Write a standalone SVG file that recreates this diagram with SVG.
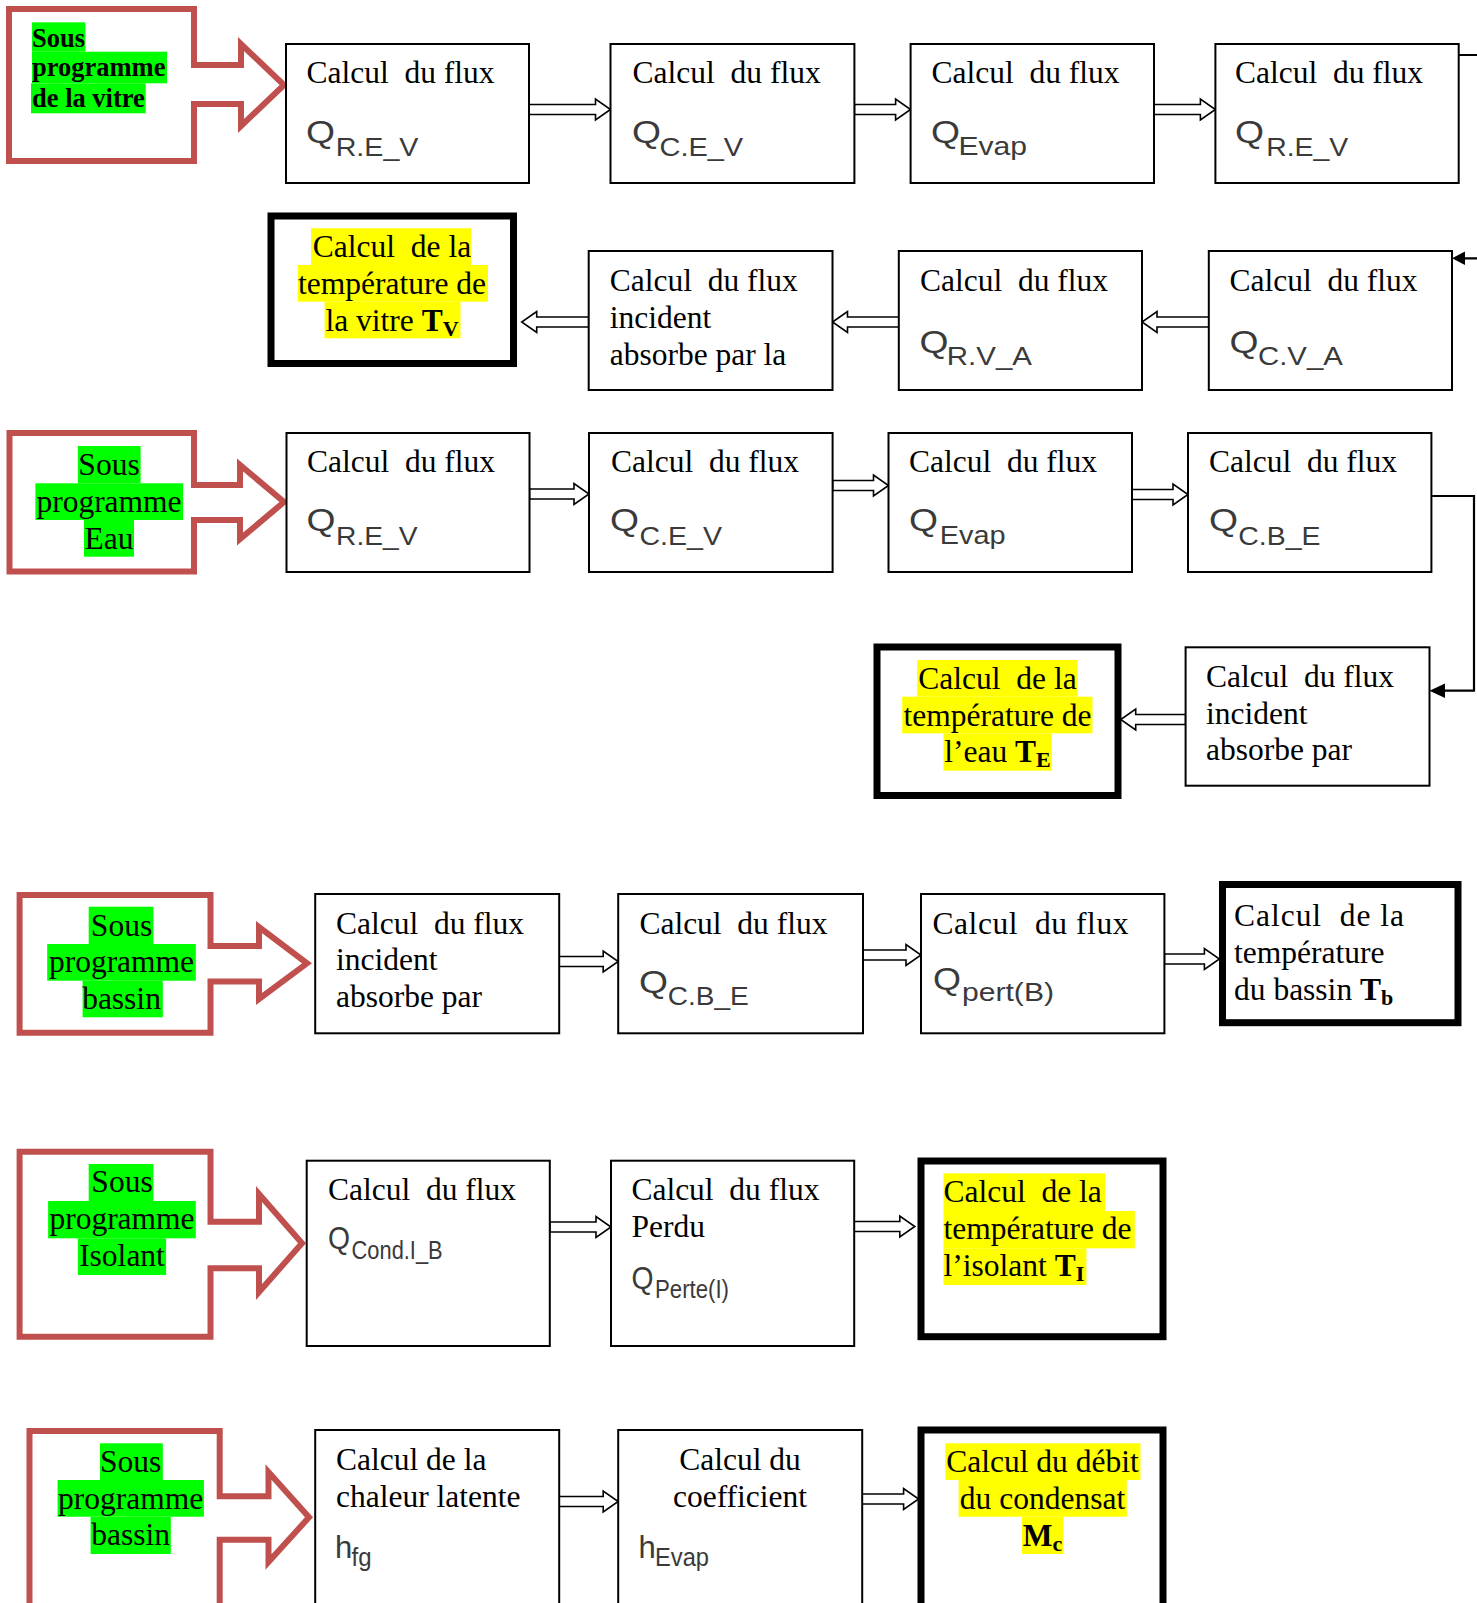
<svg xmlns="http://www.w3.org/2000/svg" width="1477" height="1603" viewBox="0 0 1477 1603">
<defs>
<style>
.box{fill:#fff;stroke:#000;stroke-width:2}
.thick{fill:#fff;stroke:#000;stroke-width:7}
.red{fill:none;stroke:#C0504D;stroke-width:6;stroke-linejoin:miter;stroke-miterlimit:10}
.t{font-family:"Liberation Serif","Times New Roman",serif;font-size:31.5px;fill:#000;white-space:pre}
.tc{font-family:"Liberation Serif","Times New Roman",serif;font-size:31.5px;fill:#000;text-anchor:middle;white-space:pre}
.tb{font-family:"Liberation Serif","Times New Roman",serif;font-size:26.5px;font-weight:bold;fill:#000}
.b{font-weight:bold}
.q{font-family:"Liberation Sans",Arial,sans-serif;font-size:31px;fill:#3a3a3a}
.qs{font-family:"Liberation Sans",Arial,sans-serif;font-size:25px;fill:#3a3a3a}
.hy{fill:#FFFF00}
.hg{fill:#00FF00}
.arr{fill:#fff;stroke:#000;stroke-width:1.6;stroke-linejoin:miter}
.ln{fill:none;stroke:#000;stroke-width:2.2}
.head{fill:#000}
</style>
</defs>

<g id="connectors">
<polygon class="arr" points="529,104.5 595.5,104.5 595.5,99 610.5,109.5 595.5,120 595.5,114.5 529,114.5"/>
<polygon class="arr" points="854.4,104.5 895.6,104.5 895.6,99 910.6,109.5 895.6,120 895.6,114.5 854.4,114.5"/>
<polygon class="arr" points="1154,104.5 1200.4,104.5 1200.4,99 1215.4,109.5 1200.4,120 1200.4,114.5 1154,114.5"/>
<path class="ln" d="M1458.7,55 H1495 V258.3 H1464"/>
<polygon class="head" points="1452,258.3 1465,251.5 1465,265"/>
<polygon class="arr" points="1208.8,317 1157,317 1157,311.5 1142,322 1157,332.5 1157,327 1208.8,327"/>
<polygon class="arr" points="898.8,317 847.5,317 847.5,311.5 832.5,322 847.5,332.5 847.5,327 898.8,327"/>
<polygon class="arr" points="588.7,317 536.7,317 536.7,311.5 521.7,322 536.7,332.5 536.7,327 588.7,327"/>
<polygon class="arr" points="529.5,489 574,489 574,483.5 589,494 574,504.5 574,499 529.5,499"/>
<polygon class="arr" points="832.6,480.5 873.5,480.5 873.5,475 888.5,485.5 873.5,496 873.5,490.5 832.6,490.5"/>
<polygon class="arr" points="1132,489.5 1173,489.5 1173,484 1188,494.5 1173,505 1173,499.5 1132,499.5"/>
<path class="ln" d="M1431.4,496 H1474 V690.7 H1443"/>
<polygon class="head" points="1429.5,690.7 1445,683.5 1445,698"/>
<polygon class="arr" points="1185.6,714.5 1135.7,714.5 1135.7,709 1120.7,719.5 1135.7,730 1135.7,724.5 1185.6,724.5"/>
<polygon class="arr" points="559.2,956.5 603.2,956.5 603.2,951 618.2,961.5 603.2,972 603.2,966.5 559.2,966.5"/>
<polygon class="arr" points="863,950 906,950 906,944.5 921,955 906,965.5 906,960 863,960"/>
<polygon class="arr" points="1164.4,954 1204.4,954 1204.4,948.5 1219.4,959 1204.4,969.5 1204.4,964 1164.4,964"/>
<polygon class="arr" points="549.8,1222 596,1222 596,1216.5 611,1227 596,1237.5 596,1232 549.8,1232"/>
<polygon class="arr" points="854.2,1221.5 899.8,1221.5 899.8,1216 914.8,1226.5 899.8,1237 899.8,1231.5 854.2,1231.5"/>
<polygon class="arr" points="559.2,1496.5 603.2,1496.5 603.2,1491 618.2,1501.5 603.2,1512 603.2,1506.5 559.2,1506.5"/>
<polygon class="arr" points="862.2,1494 903.6,1494 903.6,1488.5 918.6,1499 903.6,1509.5 903.6,1504 862.2,1504"/>
</g>

<!-- Row 1 -->
<g id="sp-vitre">
<path class="red" d="M9,9 H194 V65 H241 V44 L284,85 L241,126 V104 H194 V161 H9 Z"/>
<rect class="hg" x="32" y="22.3" width="53.4" height="29.4"/>
<rect class="hg" x="32" y="51.7" width="135" height="31.6"/>
<rect class="hg" x="31" y="83.3" width="114.7" height="30"/>
<text class="tb" x="32" y="46.5">Sous</text>
<text class="tb" x="32" y="76">programme</text>
<text class="tb" x="32" y="107">de la vitre</text>
</g>
<g id="r1b1">
<rect class="box" x="286" y="44" width="243" height="139"/>
<text class="t" x="306.5" y="83" xml:space="preserve">Calcul  du flux</text>
<text class="q" x="306" y="143" textLength="29" lengthAdjust="spacingAndGlyphs">Q</text>
<text class="qs" x="335.7" y="156" textLength="82.7" lengthAdjust="spacingAndGlyphs">R.E_V</text>
</g>
<g id="r1b2">
<rect class="box" x="610.5" y="44" width="243.9" height="139"/>
<text class="t" x="632.6" y="83" xml:space="preserve">Calcul  du flux</text>
<text class="q" x="632" y="143" textLength="29" lengthAdjust="spacingAndGlyphs">Q</text>
<text class="qs" x="659.5" y="156" textLength="83.7" lengthAdjust="spacingAndGlyphs">C.E_V</text>
</g>
<g id="r1b3">
<rect class="box" x="910.6" y="44" width="243.4" height="139"/>
<text class="t" x="931.5" y="83" xml:space="preserve">Calcul  du flux</text>
<text class="q" x="931" y="143" textLength="29" lengthAdjust="spacingAndGlyphs">Q</text>
<text class="qs" x="958.4" y="155" textLength="68.6" lengthAdjust="spacingAndGlyphs">Evap</text>
</g>
<g id="r1b4">
<rect class="box" x="1215.4" y="44" width="243.3" height="139"/>
<text class="t" x="1235" y="83" xml:space="preserve">Calcul  du flux</text>
<text class="q" x="1235" y="143" textLength="29" lengthAdjust="spacingAndGlyphs">Q</text>
<text class="qs" x="1266.2" y="156" textLength="82" lengthAdjust="spacingAndGlyphs">R.E_V</text>
</g>

<!-- Row 2 -->
<g id="tv">
<rect class="thick" x="271" y="216" width="242.5" height="147.5"/>
<rect class="hy" x="311" y="228.3" width="160" height="36.7"/>
<rect class="hy" x="297.8" y="265" width="190.2" height="36.7"/>
<rect class="hy" x="324.6" y="301.7" width="135.9" height="36.6"/>
<text class="tc" x="392" y="257" xml:space="preserve">Calcul  de la</text>
<text class="tc" x="392" y="294">température de</text>
<text class="tc" x="392" y="330.5" xml:space="preserve">la vitre <tspan class="b">T</tspan><tspan class="b" font-size="22" dy="5">V</tspan></text>
</g>
<g id="r2inc">
<rect class="box" x="588.7" y="251" width="243.8" height="139"/>
<text class="t" x="609.7" y="290.7" xml:space="preserve">Calcul  du flux</text>
<text class="t" x="609.7" y="328">incident</text>
<text class="t" x="609.7" y="365">absorbe par la</text>
</g>
<g id="r2rva">
<rect class="box" x="898.8" y="251" width="243.2" height="139"/>
<text class="t" x="920" y="290.7" xml:space="preserve">Calcul  du flux</text>
<text class="q" x="919.5" y="353" textLength="29" lengthAdjust="spacingAndGlyphs">Q</text>
<text class="qs" x="946.8" y="365" textLength="85.2" lengthAdjust="spacingAndGlyphs">R.V_A</text>
</g>
<g id="r2cva">
<rect class="box" x="1208.8" y="251" width="243.2" height="139"/>
<text class="t" x="1229.5" y="290.7" xml:space="preserve">Calcul  du flux</text>
<text class="q" x="1229.5" y="353" textLength="29" lengthAdjust="spacingAndGlyphs">Q</text>
<text class="qs" x="1258" y="365" textLength="84.8" lengthAdjust="spacingAndGlyphs">C.V_A</text>
</g>

<!-- Row 3 -->
<g id="sp-eau">
<path class="red" d="M9.5,433 H194 V485 H240 V465 L284,502 L240,539 V520 H194 V571.5 H9.5 Z"/>
<rect class="hg" x="77.9" y="446" width="62.7" height="37.3"/>
<rect class="hg" x="35.4" y="483.3" width="147.7" height="36.7"/>
<rect class="hg" x="84" y="520" width="50" height="36.7"/>
<text class="tc" x="109" y="475">Sous</text>
<text class="tc" x="109" y="512">programme</text>
<text class="tc" x="109" y="548.5">Eau</text>
</g>
<g id="r3b1">
<rect class="box" x="286.5" y="433" width="243" height="139"/>
<text class="t" x="307" y="472" xml:space="preserve">Calcul  du flux</text>
<text class="q" x="306.5" y="531" textLength="29" lengthAdjust="spacingAndGlyphs">Q</text>
<text class="qs" x="336" y="545" textLength="81.6" lengthAdjust="spacingAndGlyphs">R.E_V</text>
</g>
<g id="r3b2">
<rect class="box" x="589" y="433" width="243.6" height="139"/>
<text class="t" x="611" y="472" xml:space="preserve">Calcul  du flux</text>
<text class="q" x="610" y="531" textLength="29" lengthAdjust="spacingAndGlyphs">Q</text>
<text class="qs" x="639.5" y="545" textLength="82.5" lengthAdjust="spacingAndGlyphs">C.E_V</text>
</g>
<g id="r3b3">
<rect class="box" x="888.5" y="433" width="243.5" height="139"/>
<text class="t" x="909" y="472" xml:space="preserve">Calcul  du flux</text>
<text class="q" x="909" y="531" textLength="29" lengthAdjust="spacingAndGlyphs">Q</text>
<text class="qs" x="939.8" y="544" textLength="65.8" lengthAdjust="spacingAndGlyphs">Evap</text>
</g>
<g id="r3b4">
<rect class="box" x="1188" y="433" width="243.4" height="139"/>
<text class="t" x="1209" y="472" xml:space="preserve">Calcul  du flux</text>
<text class="q" x="1209" y="531" textLength="29" lengthAdjust="spacingAndGlyphs">Q</text>
<text class="qs" x="1238.2" y="545" textLength="82.3" lengthAdjust="spacingAndGlyphs">C.B_E</text>
</g>
<g id="r3inc">
<rect class="box" x="1185.6" y="647.3" width="243.9" height="138.4"/>
<text class="t" x="1206" y="687" xml:space="preserve">Calcul  du flux</text>
<text class="t" x="1206" y="723.5">incident</text>
<text class="t" x="1206" y="760">absorbe par</text>
</g>
<g id="te">
<rect class="thick" x="877" y="647" width="241" height="148.5"/>
<rect class="hy" x="917.2" y="660" width="160.3" height="36.7"/>
<rect class="hy" x="902.2" y="696.7" width="190.3" height="36.6"/>
<rect class="hy" x="943.5" y="733.3" width="108.1" height="37.4"/>
<text class="tc" x="997.5" y="689" xml:space="preserve">Calcul  de la</text>
<text class="tc" x="997.5" y="725.5">température de</text>
<text class="tc" x="997.5" y="762" xml:space="preserve">l’eau <tspan class="b">T</tspan><tspan class="b" font-size="22" dy="5">E</tspan></text>
</g>

<!-- Row 4 -->
<g id="sp-bassin1">
<path class="red" d="M19.6,895 H210.5 V946 H259 V927 L307,963.3 L259,999 V981.5 H210.5 V1032.7 H19.6 Z"/>
<rect class="hg" x="88.7" y="906.7" width="64.7" height="37.3"/>
<rect class="hg" x="47.2" y="944" width="148.6" height="36.7"/>
<rect class="hg" x="82.6" y="980.7" width="80.2" height="36.6"/>
<text class="tc" x="121.5" y="935.5">Sous</text>
<text class="tc" x="121.5" y="972">programme</text>
<text class="tc" x="121.5" y="1008.5">bassin</text>
</g>
<g id="r4b1">
<rect class="box" x="315.2" y="894" width="244" height="139.3"/>
<text class="t" x="336" y="933.5" xml:space="preserve">Calcul  du flux</text>
<text class="t" x="336" y="970">incident</text>
<text class="t" x="336" y="1006.7">absorbe par</text>
</g>
<g id="r4b2">
<rect class="box" x="618.2" y="894" width="244.8" height="139.3"/>
<text class="t" x="639.4" y="933.5" xml:space="preserve">Calcul  du flux</text>
<text class="q" x="639" y="993" textLength="29" lengthAdjust="spacingAndGlyphs">Q</text>
<text class="qs" x="667.8" y="1005" textLength="81" lengthAdjust="spacingAndGlyphs">C.B_E</text>
</g>
<g id="r4b3">
<rect class="box" x="921" y="894" width="243.4" height="139.3"/>
<text class="t" x="932.5" y="933.5" xml:space="preserve" textLength="196" lengthAdjust="spacing">Calcul  du flux</text>
<text class="q" x="933" y="990" textLength="28" lengthAdjust="spacingAndGlyphs">Q</text>
<text class="qs" x="962" y="1001" textLength="92" lengthAdjust="spacingAndGlyphs">pert(B)</text>
</g>
<g id="tb">
<rect class="thick" x="1222.5" y="884.5" width="235.5" height="138.2"/>
<text class="t" x="1234" y="926" xml:space="preserve" textLength="170" lengthAdjust="spacing">Calcul  de la</text>
<text class="t" x="1234" y="963">température</text>
<text class="t" x="1234" y="999.5" xml:space="preserve">du bassin <tspan class="b">T</tspan><tspan class="b" font-size="22" dy="5">b</tspan></text>
</g>

<!-- Row 5 -->
<g id="sp-isolant">
<path class="red" d="M19.6,1151.7 H210.5 V1221.7 H259 V1194 L302,1243.3 L259,1292 V1268.3 H210.5 V1336.7 H19.6 Z"/>
<rect class="hg" x="88.7" y="1164" width="64.7" height="37"/>
<rect class="hg" x="48.1" y="1201" width="147.7" height="37.3"/>
<rect class="hg" x="77.9" y="1238.3" width="88.2" height="36.7"/>
<text class="tc" x="122" y="1192">Sous</text>
<text class="tc" x="122" y="1229">programme</text>
<text class="tc" x="122" y="1265.5">Isolant</text>
</g>
<g id="r5b1">
<rect class="box" x="306.7" y="1160.7" width="243.1" height="185.3"/>
<text class="t" x="328" y="1200" xml:space="preserve">Calcul  du flux</text>
<text class="q" x="328" y="1249" font-size="24" textLength="22" lengthAdjust="spacingAndGlyphs">Q</text>
<text class="qs" x="351.6" y="1259" font-size="18" textLength="91" lengthAdjust="spacingAndGlyphs">Cond.I_B</text>
</g>
<g id="r5b2">
<rect class="box" x="611" y="1160.7" width="243.2" height="185.3"/>
<text class="t" x="631.4" y="1200" xml:space="preserve">Calcul  du flux</text>
<text class="t" x="631.4" y="1236.7">Perdu</text>
<text class="q" x="631.4" y="1289" font-size="24" textLength="22" lengthAdjust="spacingAndGlyphs">Q</text>
<text class="qs" x="655" y="1298" font-size="18" textLength="74" lengthAdjust="spacingAndGlyphs">Perte(I)</text>
</g>
<g id="ti">
<rect class="thick" x="921" y="1161" width="242" height="175.7"/>
<rect class="hy" x="943.5" y="1173.3" width="161.7" height="37.7"/>
<rect class="hy" x="943.5" y="1211" width="191.3" height="37.3"/>
<rect class="hy" x="943.5" y="1248.3" width="142.9" height="36.7"/>
<text class="t" x="943.5" y="1202" xml:space="preserve">Calcul  de la</text>
<text class="t" x="943.5" y="1239">température de</text>
<text class="t" x="943.5" y="1276" xml:space="preserve">l’isolant <tspan class="b">T</tspan><tspan class="b" font-size="22" dy="5">I</tspan></text>
</g>

<!-- Row 6 -->
<g id="sp-bassin2">
<path class="red" d="M29.5,1640 V1431 H219.7 V1496.3 H268.5 V1472 L309,1517.3 L268.5,1562 V1539.7 H219.7 V1640"/>
<rect class="hg" x="100" y="1443.3" width="62.8" height="36.7"/>
<rect class="hg" x="57.6" y="1480" width="146.3" height="36.7"/>
<rect class="hg" x="90.6" y="1516.7" width="80.2" height="37.3"/>
<text class="tc" x="130.7" y="1472">Sous</text>
<text class="tc" x="130.7" y="1508.5">programme</text>
<text class="tc" x="130.7" y="1545">bassin</text>
</g>
<g id="r6b1">
<rect class="box" x="315.2" y="1430" width="244" height="220"/>
<text class="t" x="336" y="1470">Calcul de la</text>
<text class="t" x="336" y="1506.7">chaleur latente</text>
<text class="q" x="335" y="1558" font-size="28">h</text>
<text class="qs" x="351.5" y="1566" font-size="20" textLength="20" lengthAdjust="spacingAndGlyphs">fg</text>
</g>
<g id="r6b2">
<rect class="box" x="618.2" y="1430" width="244" height="220"/>
<text class="tc" x="740" y="1470">Calcul du</text>
<text class="tc" x="740" y="1506.7">coefficient</text>
<text class="q" x="638.5" y="1558" font-size="28">h</text>
<text class="qs" x="655" y="1566" font-size="20" textLength="54" lengthAdjust="spacingAndGlyphs">Evap</text>
</g>
<g id="mc">
<rect class="thick" x="921" y="1430" width="242" height="230"/>
<rect class="hy" x="945.4" y="1443.3" width="195.1" height="36.7"/>
<rect class="hy" x="958.6" y="1480" width="168.2" height="36.7"/>
<rect class="hy" x="1022" y="1516.7" width="41.4" height="37.3"/>
<text class="tc" x="1042.5" y="1472.3">Calcul du débit</text>
<text class="tc" x="1042.5" y="1509">du condensat</text>
<text class="tc" x="1042.5" y="1545.7"><tspan class="b">M</tspan><tspan class="b" font-size="22" dy="5">c</tspan></text>
</g>
</svg>
